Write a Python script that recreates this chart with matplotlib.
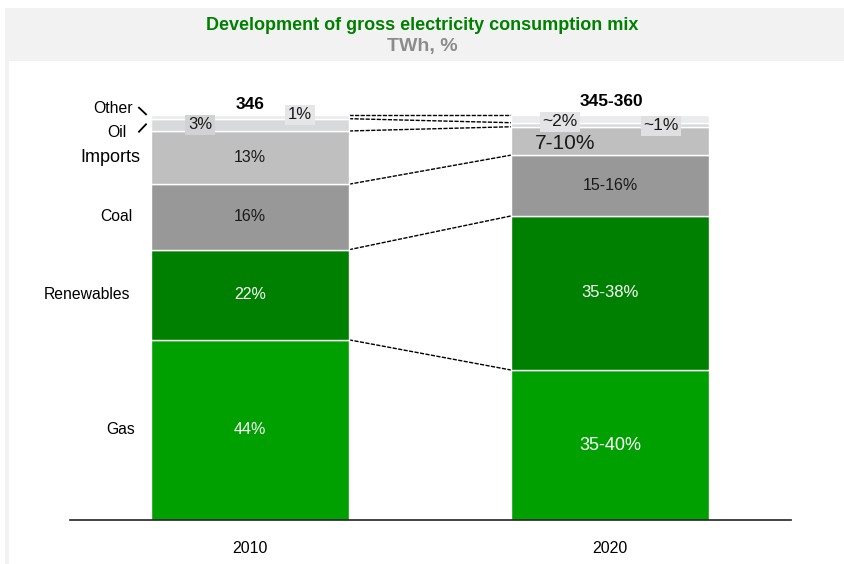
import numpy as np
import matplotlib.pyplot as plt
from matplotlib.patches import Rectangle
from matplotlib.lines import Line2D
from matplotlib.transforms import blended_transform_factory

plt.rcParams['font.family'] = ['Liberation Sans', 'DejaVu Sans']

# gross electricity consumption mix, share of total in %
years = ['2010', '2020']
sources = ['Gas', 'Renewables', 'Coal', 'Imports', 'Oil', 'Other']
share_2010 = [44, 22, 16, 13, 3, 1]
share_2020 = [37, 38, 15, 7, 1, 2]   # point estimates within the stated ranges
labels_2010 = ['44%', '22%', '16%', '13%', '3%', '1%']
labels_2020 = ['35-40%', '35-38%', '15-16%', '7-10%', '~1%', '~2%']
totals = ['346', '345-360']

colors = ['#00a000', '#008000', '#989898', '#bfbfbf', '#d8d9db', '#eaebed']
text_colors = ['white', 'white', '#1a1a1a', '#1a1a1a', '#1a1a1a', '#1a1a1a']

W, H = 844, 564
fig = plt.figure(figsize=(W / 100, H / 100), dpi=100)

# grey header band and thin left frame
fig.patches.append(Rectangle((5 / W, 1 - 61 / H), 1, 53 / H, transform=fig.transFigure,
                             facecolor='#f2f2f2', edgecolor='none', zorder=0))
fig.patches.append(Rectangle((5 / W, 0), 4 / W, 1 - 61 / H, transform=fig.transFigure,
                             facecolor='#f2f2f2', edgecolor='none', zorder=0))
fig.text(0.5, 1 - 26 / H, 'Development of gross electricity consumption mix',
         ha='center', va='center', fontsize=13, fontweight='bold', color='#008000')
fig.text(0.5, 1 - 47 / H, 'TWh, %', ha='center', va='center',
         fontsize=14, fontweight='bold', color='#8c8c8c')

ax = fig.add_axes([70 / W, 44 / H, 721 / W, 450 / H])
ax.set_xlim(-0.5, 1.503)
ax.set_ylim(0, 111)
for s in ['top', 'right', 'left']:
    ax.spines[s].set_visible(False)
ax.spines['bottom'].set_color('#222222')
ax.spines['bottom'].set_linewidth(1.2)
ax.set_yticks([])
ax.set_xticks([0, 1])
ax.set_xticklabels(years, fontsize=11.5)
ax.tick_params(axis='x', length=0, pad=15)

bw = 0.55
stacks = []
for i, share in enumerate([share_2010, share_2020]):
    h = np.array(share, dtype=float) / sum(share) * 100
    bottoms = np.concatenate([[0], np.cumsum(h)[:-1]])
    ax.bar(i, h, bw, bottom=bottoms, color=colors, edgecolor='white', linewidth=1, zorder=2)
    stacks.append((h, bottoms))

# dashed connectors between matching segment tops
tops_a = stacks[0][1] + stacks[0][0]
tops_b = stacks[1][1] + stacks[1][0]
for ya, yb in zip(tops_a, tops_b):
    ax.plot([bw / 2, 1 - bw / 2], [ya, yb], color='black', lw=1,
            ls=(0, (3, 1)), zorder=1)

# value labels for the larger segments
big_sizes = [[11.5, 11.5, 11.5, 11.5], [13, 12, 11.5, 15]]
for i, labels in enumerate([labels_2010, labels_2020]):
    h, b = stacks[i]
    for k in range(4):
        x, y = i, b[k] + h[k] / 2
        if i == 1 and k == 3:
            x, y = i - 0.125, y - 0.7
        ax.text(x, y, labels[k], ha='center', va='center',
                fontsize=big_sizes[i][k], color=text_colors[k], zorder=3)

# boxed labels for oil and other
box_specs = [
    (0, 4, -0.139, 0.0, 12, '#d2d2d4'),
    (0, 5, 0.139, 0.5, 12, '#e6e6e8'),
    (1, 4, 0.142, -0.3, 12.5, '#e0e0e2'),
    (1, 5, -0.139, -0.8, 12.5, '#e4e4e6'),
]
labels_all = [labels_2010, labels_2020]
for i, k, dx, dy, fs, bg in box_specs:
    h, b = stacks[i]
    ax.text(i + dx, b[k] + h[k] / 2 + dy, labels_all[i][k], ha='center', va='center',
            fontsize=fs, color='#1a1a1a', zorder=4,
            bbox=dict(boxstyle='square,pad=0.15', facecolor=bg, edgecolor='none'))

# totals above the bars
ax.text(0, 102.6, totals[0], ha='center', va='center', fontsize=12.5,
        fontweight='bold', zorder=4)
ax.text(1.005, 103.2, totals[1], ha='center', va='center', fontsize=12.5,
        fontweight='bold', zorder=4)

# category names on the left
tr = blended_transform_factory(ax.transAxes, ax.transData)
h, b = stacks[0]
cat_x = {'Gas': 0.090, 'Renewables': 0.083, 'Coal': 0.086, 'Imports': 0.097}
cat_fs = {'Gas': 11.3, 'Renewables': 11.3, 'Coal': 11.3, 'Imports': 13}
for k, name in enumerate(sources[:4]):
    ax.text(cat_x[name], b[k] + h[k] / 2, name, transform=tr, ha='right',
            va='center', fontsize=cat_fs[name])
ax.text(0.087, 101.6, 'Other', transform=tr, ha='right', va='center', fontsize=11.3)
ax.text(0.078, 95.5, 'Oil', transform=tr, ha='right', va='center', fontsize=11.3)

# short leader ticks for Other and Oil
fig.add_artist(Line2D([139 / W, 146 / W], [1 - 107.7 / H, 1 - 114.3 / H],
                      color='black', lw=1.3))
fig.add_artist(Line2D([139 / W, 146 / W], [1 - 131.7 / H, 1 - 124.3 / H],
                      color='black', lw=1.3))

fig.savefig('out.png', dpi=100)
